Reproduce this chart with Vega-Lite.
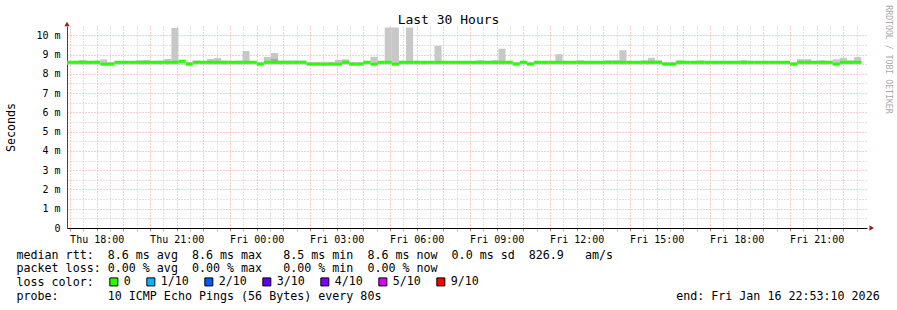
{
"$schema": "https://vega.github.io/schema/vega-lite/v6.json",
"width": 800, "height": 202,
"autosize": {"type": "none"},
"padding": {"left": 67, "top": 26, "right": 30, "bottom": 82},
"background": "white",
"config": {"view": {"stroke": null}, "font": "DejaVu Sans Mono"},
"data": {"values": [
{"t0":1008,"t1":1024,"lo":8.48,"hi":8.62,"med":8.6,"loss":"0"},
{"t0":1024,"t1":1040,"lo":8.48,"hi":8.62,"med":8.6,"loss":"0"},
{"t0":1040,"t1":1056,"lo":8.48,"hi":8.72,"med":8.6,"loss":"0"},
{"t0":1056,"t1":1072,"lo":8.48,"hi":8.62,"med":8.6,"loss":"0"},
{"t0":1072,"t1":1088,"lo":8.48,"hi":8.68,"med":8.6,"loss":"0"},
{"t0":1088,"t1":1104,"lo":8.48,"hi":8.75,"med":8.5,"loss":"0"},
{"t0":1104,"t1":1120,"lo":8.48,"hi":8.62,"med":8.5,"loss":"0"},
{"t0":1120,"t1":1136,"lo":8.48,"hi":8.62,"med":8.6,"loss":"0"},
{"t0":1136,"t1":1152,"lo":8.48,"hi":8.66,"med":8.6,"loss":"0"},
{"t0":1152,"t1":1168,"lo":8.48,"hi":8.66,"med":8.6,"loss":"0"},
{"t0":1168,"t1":1184,"lo":8.48,"hi":8.7,"med":8.6,"loss":"0"},
{"t0":1184,"t1":1200,"lo":8.48,"hi":8.72,"med":8.6,"loss":"0"},
{"t0":1200,"t1":1216,"lo":8.48,"hi":8.66,"med":8.6,"loss":"0"},
{"t0":1216,"t1":1232,"lo":8.48,"hi":8.68,"med":8.6,"loss":"0"},
{"t0":1232,"t1":1248,"lo":8.48,"hi":8.77,"med":8.6,"loss":"0"},
{"t0":1248,"t1":1264,"lo":8.48,"hi":10.38,"med":8.6,"loss":"0"},
{"t0":1264,"t1":1280,"lo":8.48,"hi":8.66,"med":8.65,"loss":"0"},
{"t0":1280,"t1":1296,"lo":8.48,"hi":8.62,"med":8.5,"loss":"0"},
{"t0":1296,"t1":1312,"lo":8.48,"hi":8.68,"med":8.6,"loss":"0"},
{"t0":1312,"t1":1328,"lo":8.48,"hi":8.62,"med":8.6,"loss":"0"},
{"t0":1328,"t1":1344,"lo":8.48,"hi":8.77,"med":8.6,"loss":"0"},
{"t0":1344,"t1":1360,"lo":8.48,"hi":8.82,"med":8.6,"loss":"0"},
{"t0":1360,"t1":1376,"lo":8.48,"hi":8.68,"med":8.6,"loss":"0"},
{"t0":1376,"t1":1392,"lo":8.48,"hi":8.66,"med":8.6,"loss":"0"},
{"t0":1392,"t1":1408,"lo":8.48,"hi":8.68,"med":8.6,"loss":"0"},
{"t0":1408,"t1":1424,"lo":8.48,"hi":9.18,"med":8.6,"loss":"0"},
{"t0":1424,"t1":1440,"lo":8.48,"hi":8.66,"med":8.6,"loss":"0"},
{"t0":1440,"t1":1456,"lo":8.48,"hi":8.62,"med":8.5,"loss":"0"},
{"t0":1456,"t1":1472,"lo":8.48,"hi":8.87,"med":8.6,"loss":"0"},
{"t0":1472,"t1":1488,"lo":8.48,"hi":9.08,"med":8.6,"loss":"0"},
{"t0":1488,"t1":1504,"lo":8.48,"hi":8.68,"med":8.6,"loss":"0"},
{"t0":1504,"t1":1520,"lo":8.48,"hi":8.68,"med":8.6,"loss":"0"},
{"t0":1520,"t1":1536,"lo":8.48,"hi":8.68,"med":8.6,"loss":"0"},
{"t0":1536,"t1":1552,"lo":8.48,"hi":8.68,"med":8.6,"loss":"0"},
{"t0":1552,"t1":1568,"lo":8.48,"hi":8.62,"med":8.5,"loss":"0"},
{"t0":1568,"t1":1584,"lo":8.48,"hi":8.62,"med":8.5,"loss":"0"},
{"t0":1584,"t1":1600,"lo":8.48,"hi":8.62,"med":8.5,"loss":"0"},
{"t0":1600,"t1":1616,"lo":8.48,"hi":8.62,"med":8.5,"loss":"0"},
{"t0":1616,"t1":1632,"lo":8.48,"hi":8.72,"med":8.5,"loss":"0"},
{"t0":1632,"t1":1648,"lo":8.48,"hi":8.75,"med":8.6,"loss":"0"},
{"t0":1648,"t1":1664,"lo":8.48,"hi":8.62,"med":8.5,"loss":"0"},
{"t0":1664,"t1":1680,"lo":8.48,"hi":8.62,"med":8.5,"loss":"0"},
{"t0":1680,"t1":1696,"lo":8.48,"hi":8.62,"med":8.6,"loss":"0"},
{"t0":1696,"t1":1712,"lo":8.48,"hi":8.88,"med":8.5,"loss":"0"},
{"t0":1712,"t1":1728,"lo":8.48,"hi":8.62,"med":8.6,"loss":"0"},
{"t0":1728,"t1":1744,"lo":8.48,"hi":10.4,"med":8.6,"loss":"0"},
{"t0":1744,"t1":1760,"lo":8.48,"hi":10.4,"med":8.5,"loss":"0"},
{"t0":1760,"t1":1776,"lo":8.48,"hi":8.62,"med":8.6,"loss":"0"},
{"t0":1776,"t1":1792,"lo":8.48,"hi":10.4,"med":8.6,"loss":"0"},
{"t0":1792,"t1":1808,"lo":8.48,"hi":8.62,"med":8.6,"loss":"0"},
{"t0":1808,"t1":1824,"lo":8.48,"hi":8.62,"med":8.6,"loss":"0"},
{"t0":1824,"t1":1840,"lo":8.48,"hi":8.62,"med":8.6,"loss":"0"},
{"t0":1840,"t1":1856,"lo":8.48,"hi":9.45,"med":8.6,"loss":"0"},
{"t0":1856,"t1":1872,"lo":8.48,"hi":8.64,"med":8.6,"loss":"0"},
{"t0":1872,"t1":1888,"lo":8.48,"hi":8.64,"med":8.6,"loss":"0"},
{"t0":1888,"t1":1904,"lo":8.48,"hi":8.64,"med":8.6,"loss":"0"},
{"t0":1904,"t1":1920,"lo":8.48,"hi":8.62,"med":8.6,"loss":"0"},
{"t0":1920,"t1":1936,"lo":8.48,"hi":8.62,"med":8.6,"loss":"0"},
{"t0":1936,"t1":1952,"lo":8.48,"hi":8.7,"med":8.6,"loss":"0"},
{"t0":1952,"t1":1968,"lo":8.48,"hi":8.62,"med":8.6,"loss":"0"},
{"t0":1968,"t1":1984,"lo":8.48,"hi":8.7,"med":8.6,"loss":"0"},
{"t0":1984,"t1":2000,"lo":8.48,"hi":9.3,"med":8.6,"loss":"0"},
{"t0":2000,"t1":2016,"lo":8.48,"hi":8.62,"med":8.6,"loss":"0"},
{"t0":2016,"t1":2032,"lo":8.48,"hi":8.62,"med":8.5,"loss":"0"},
{"t0":2032,"t1":2048,"lo":8.48,"hi":8.62,"med":8.6,"loss":"0"},
{"t0":2048,"t1":2064,"lo":8.48,"hi":8.62,"med":8.5,"loss":"0"},
{"t0":2064,"t1":2080,"lo":8.48,"hi":8.62,"med":8.6,"loss":"0"},
{"t0":2080,"t1":2096,"lo":8.48,"hi":8.62,"med":8.6,"loss":"0"},
{"t0":2096,"t1":2112,"lo":8.48,"hi":8.62,"med":8.6,"loss":"0"},
{"t0":2112,"t1":2128,"lo":8.48,"hi":9.02,"med":8.6,"loss":"0"},
{"t0":2128,"t1":2144,"lo":8.48,"hi":8.62,"med":8.6,"loss":"0"},
{"t0":2144,"t1":2160,"lo":8.48,"hi":8.62,"med":8.6,"loss":"0"},
{"t0":2160,"t1":2176,"lo":8.48,"hi":8.7,"med":8.6,"loss":"0"},
{"t0":2176,"t1":2192,"lo":8.48,"hi":8.62,"med":8.6,"loss":"0"},
{"t0":2192,"t1":2208,"lo":8.48,"hi":8.62,"med":8.6,"loss":"0"},
{"t0":2208,"t1":2224,"lo":8.48,"hi":8.62,"med":8.6,"loss":"0"},
{"t0":2224,"t1":2240,"lo":8.48,"hi":8.7,"med":8.6,"loss":"0"},
{"t0":2240,"t1":2256,"lo":8.48,"hi":8.7,"med":8.6,"loss":"0"},
{"t0":2256,"t1":2272,"lo":8.48,"hi":9.22,"med":8.6,"loss":"0"},
{"t0":2272,"t1":2288,"lo":8.48,"hi":8.62,"med":8.6,"loss":"0"},
{"t0":2288,"t1":2304,"lo":8.48,"hi":8.62,"med":8.6,"loss":"0"},
{"t0":2304,"t1":2320,"lo":8.48,"hi":8.7,"med":8.6,"loss":"0"},
{"t0":2320,"t1":2336,"lo":8.48,"hi":8.83,"med":8.6,"loss":"0"},
{"t0":2336,"t1":2352,"lo":8.48,"hi":8.7,"med":8.6,"loss":"0"},
{"t0":2352,"t1":2368,"lo":8.48,"hi":8.62,"med":8.5,"loss":"0"},
{"t0":2368,"t1":2384,"lo":8.48,"hi":8.62,"med":8.5,"loss":"0"},
{"t0":2384,"t1":2400,"lo":8.48,"hi":8.7,"med":8.6,"loss":"0"},
{"t0":2400,"t1":2416,"lo":8.48,"hi":8.62,"med":8.6,"loss":"0"},
{"t0":2416,"t1":2432,"lo":8.48,"hi":8.62,"med":8.6,"loss":"0"},
{"t0":2432,"t1":2448,"lo":8.48,"hi":8.7,"med":8.6,"loss":"0"},
{"t0":2448,"t1":2464,"lo":8.48,"hi":8.62,"med":8.6,"loss":"0"},
{"t0":2464,"t1":2480,"lo":8.48,"hi":8.62,"med":8.6,"loss":"0"},
{"t0":2480,"t1":2496,"lo":8.48,"hi":8.62,"med":8.6,"loss":"0"},
{"t0":2496,"t1":2512,"lo":8.48,"hi":8.64,"med":8.6,"loss":"0"},
{"t0":2512,"t1":2528,"lo":8.48,"hi":8.62,"med":8.6,"loss":"0"},
{"t0":2528,"t1":2544,"lo":8.48,"hi":8.7,"med":8.6,"loss":"0"},
{"t0":2544,"t1":2560,"lo":8.48,"hi":8.62,"med":8.6,"loss":"0"},
{"t0":2560,"t1":2576,"lo":8.48,"hi":8.62,"med":8.6,"loss":"0"},
{"t0":2576,"t1":2592,"lo":8.48,"hi":8.62,"med":8.6,"loss":"0"},
{"t0":2592,"t1":2608,"lo":8.48,"hi":8.62,"med":8.6,"loss":"0"},
{"t0":2608,"t1":2624,"lo":8.48,"hi":8.62,"med":8.6,"loss":"0"},
{"t0":2624,"t1":2640,"lo":8.48,"hi":8.62,"med":8.6,"loss":"0"},
{"t0":2640,"t1":2656,"lo":8.48,"hi":8.62,"med":8.5,"loss":"0"},
{"t0":2656,"t1":2672,"lo":8.48,"hi":8.76,"med":8.6,"loss":"0"},
{"t0":2672,"t1":2688,"lo":8.48,"hi":8.76,"med":8.6,"loss":"0"},
{"t0":2688,"t1":2704,"lo":8.48,"hi":8.62,"med":8.6,"loss":"0"},
{"t0":2704,"t1":2720,"lo":8.48,"hi":8.7,"med":8.6,"loss":"0"},
{"t0":2720,"t1":2736,"lo":8.48,"hi":8.62,"med":8.6,"loss":"0"},
{"t0":2736,"t1":2752,"lo":8.48,"hi":8.75,"med":8.5,"loss":"0"},
{"t0":2752,"t1":2768,"lo":8.48,"hi":8.83,"med":8.6,"loss":"0"},
{"t0":2768,"t1":2784,"lo":8.48,"hi":8.7,"med":8.6,"loss":"0"},
{"t0":2784,"t1":2800,"lo":8.48,"hi":8.87,"med":8.6,"loss":"0"}
]},
"layer": [
{
"mark": {"type": "rect", "color": "#c8c8c8", "clip": true},
"encoding": {
"x": {"field": "t0", "type": "quantitative", "scale": {"domain": [1013.17, 2813.17], "nice": false, "zero": false, "padding": 0},
 "axis": {"orient": "bottom",
  "values": [1020,1050,1080,1110,1140,1170,1200,1230,1260,1290,1320,1350,1380,1410,1440,1470,1500,1530,1560,1590,1620,1650,1680,1710,1740,1770,1800,1830,1860,1890,1920,1950,1980,2010,2040,2070,2100,2130,2160,2190,2220,2250,2280,2310,2340,2370,2400,2430,2460,2490,2520,2550,2580,2610,2640,2670,2700,2730,2760,2790],
  "labelExpr": "datum.value % 180 == 0 ? (datum.value < 1440 ? 'Thu ' : 'Fri ') + format(floor((datum.value % 1440) / 60), '02d') + ':00' : ''",
  "labelFont": "DejaVu Sans Mono", "labelFontSize": 10, "labelColor": "#000", "labelPadding": 3,
  "labelOverlap": false, "labelFlush": false, "labelBound": false,
  "ticks": true, "tickSize": 3, "tickWidth": 1,
  "tickColor": {"condition": {"test": "datum.value % 60 == 0", "value": "#f08080"}, "value": "#c0c0c0"},
  "grid": true, "gridDash": [1, 2], "gridWidth": 1,
  "gridColor": {"condition": {"test": "datum.value % 60 == 0", "value": "#f09a9a"}, "value": "#c4c4c4"},
  "domain": true, "domainColor": "#000", "domainWidth": 1,
  "title": [
   "median\u00a0rtt:\u00a0\u00a08.6\u00a0ms\u00a0avg\u00a0\u00a08.6\u00a0ms\u00a0max\u00a0\u00a0\u00a08.5\u00a0ms\u00a0min\u00a0\u00a08.6\u00a0ms\u00a0now\u00a0\u00a00.0\u00a0ms\u00a0sd\u00a0\u00a0826.9\u00a0\u00a0\u00a0am/s",
   "packet\u00a0loss:\u00a00.00\u00a0%\u00a0avg\u00a0\u00a00.00\u00a0%\u00a0max\u00a0\u00a0\u00a00.00\u00a0%\u00a0min\u00a0\u00a00.00\u00a0%\u00a0now",
   "loss\u00a0color:",
   "probe:\u00a0\u00a0\u00a0\u00a0\u00a0\u00a0\u00a010\u00a0ICMP\u00a0Echo\u00a0Pings\u00a0(56\u00a0Bytes)\u00a0every\u00a080s\u00a0\u00a0\u00a0\u00a0\u00a0\u00a0\u00a0\u00a0\u00a0\u00a0\u00a0\u00a0\u00a0\u00a0\u00a0\u00a0\u00a0\u00a0\u00a0\u00a0\u00a0\u00a0\u00a0\u00a0\u00a0\u00a0\u00a0\u00a0\u00a0\u00a0\u00a0\u00a0\u00a0\u00a0\u00a0\u00a0\u00a0\u00a0\u00a0\u00a0\u00a0\u00a0end:\u00a0Fri\u00a0Jan\u00a016\u00a022:53:10\u00a02026"
  ],
  "titleFont": "DejaVu Sans Mono", "titleFontSize": 11.66, "titleFontWeight": "normal", "titleColor": "#000",
  "titleAlign": "left", "titleAnchor": "start", "titleAngle": 0, "titleBaseline": "alphabetic",
  "titleX": -51, "titleY": 30, "titleLineHeight": 13.7}},
"x2": {"field": "t1"},
"y": {"field": "lo", "type": "quantitative", "scale": {"domain": [0, 10.48], "nice": false, "zero": false, "padding": 0},
 "axis": {"orient": "left",
  "values": [0,0.5,1,1.5,2,2.5,3,3.5,4,4.5,5,5.5,6,6.5,7,7.5,8,8.5,9,9.5,10],
  "labelExpr": "datum.value % 1 == 0 ? (datum.value == 0 ? '0' : datum.value + ' m') : ''",
  "labelFont": "DejaVu Sans Mono", "labelFontSize": 10, "labelColor": "#000", "labelPadding": 7,
  "labelOverlap": false, "labelBound": false, "labelFlush": false,
  "ticks": false, "tickSize": 0,
  "grid": true, "gridDash": [1, 2], "gridWidth": 1,
  "gridColor": {"condition": {"test": "datum.value % 1 == 0", "value": "#f09a9a"}, "value": "#c4c4c4"},
  "domain": true, "domainColor": "#444", "domainWidth": 1,
  "title": "Seconds", "titleFont": "DejaVu Sans Mono", "titleFontSize": 11.66, "titleFontWeight": "normal", "titleColor": "#000",
  "titleAngle": -90, "titleX": -56, "titleY": 101, "titleAlign": "center", "titleBaseline": "middle"}},
"y2": {"field": "hi"}
}
},
{
"data": {"values": [{"t0": 1472, "t1": 1488, "lo": 8.6, "hi": 8.78}]},
"mark": {"type": "rect", "color": "#a8a8a8", "clip": true},
"encoding": {
"x": {"field": "t0", "type": "quantitative", "scale": {"domain": [1013.17, 2813.17], "nice": false, "zero": false, "padding": 0}, "axis": null},
"x2": {"field": "t1"},
"y": {"field": "lo", "type": "quantitative", "scale": {"domain": [0, 10.48], "nice": false, "zero": false, "padding": 0}, "axis": null},
"y2": {"field": "hi"}
}
},
{
"mark": {"type": "bar", "orient": "horizontal", "height": 3, "clip": true},
"encoding": {
"x": {"field": "t0", "type": "quantitative", "scale": {"domain": [1013.17, 2813.17], "nice": false, "zero": false, "padding": 0},
 "axis": {"orient": "top", "domain": false, "ticks": false, "labels": false, "grid": false,
  "title": "Last 30 Hours", "titleFont": "DejaVu Sans Mono", "titleFontSize": 13, "titleFontWeight": "normal", "titleColor": "#000",
  "titleX": 381, "titleY": -3, "titleAlign": "center", "titleAnchor": "middle", "titleBaseline": "alphabetic", "titleAngle": 0}},
"x2": {"field": "t1"},
"y": {"field": "med", "type": "quantitative", "scale": {"domain": [0, 10.48], "nice": false, "zero": false, "padding": 0},
 "axis": {"orient": "right", "domain": false, "ticks": false, "labels": false, "grid": false,
  "title": "RRDTOOL / TOBI OETIKER", "titleFont": "DejaVu Sans Mono", "titleFontSize": 8.2, "titleFontWeight": "normal", "titleColor": "#aaaaaa",
  "titleAngle": 90, "titleX": 20, "titleY": 33, "titleAlign": "center", "titleBaseline": "middle"}},
"color": {"field": "loss", "type": "nominal",
 "scale": {"domain": ["0", "1/10", "2/10", "3/10", "4/10", "5/10", "9/10"], "range": ["#26ff00", "#00b8ff", "#0059ff", "#5e00ff", "#7e00ff", "#dd00ff", "#ff0000"]},
 "legend": {"orient": "none", "legendX": 41, "legendY": 250, "direction": "horizontal",
  "title": null,
  "labelFont": "DejaVu Sans Mono", "labelFontSize": 11.66, "labelColor": "#000", "labelOffset": 4,
  "columnPadding": 13, "symbolType": "square", "symbolSize": 64, "symbolStrokeColor": "#000", "symbolStrokeWidth": 1, "symbolOpacity": 1, "padding": 0}}
}
},
{
"data": {"values": [{"end": "y"}]},
"mark": {"type": "point", "shape": "triangle-up", "filled": true, "size": 28, "color": "#962020", "opacity": 1},
"encoding": {
"x": {"datum": 1013.17, "type": "quantitative", "scale": {"domain": [1013.17, 2813.17], "nice": false, "zero": false, "padding": 0}, "axis": null},
"y": {"datum": 10.58, "type": "quantitative", "scale": {"domain": [0, 10.48], "nice": false, "zero": false, "padding": 0}, "axis": null}
}
},
{
"data": {"values": [{"end": "x"}]},
"mark": {"type": "point", "shape": "triangle-right", "filled": true, "size": 28, "color": "#962020", "opacity": 1},
"encoding": {
"x": {"datum": 2823.8, "type": "quantitative", "scale": {"domain": [1013.17, 2813.17], "nice": false, "zero": false, "padding": 0}, "axis": null},
"y": {"datum": 0, "type": "quantitative", "scale": {"domain": [0, 10.48], "nice": false, "zero": false, "padding": 0}, "axis": null}
}
}
],
"resolve": {"axis": {"x": "independent", "y": "independent"}}
}
